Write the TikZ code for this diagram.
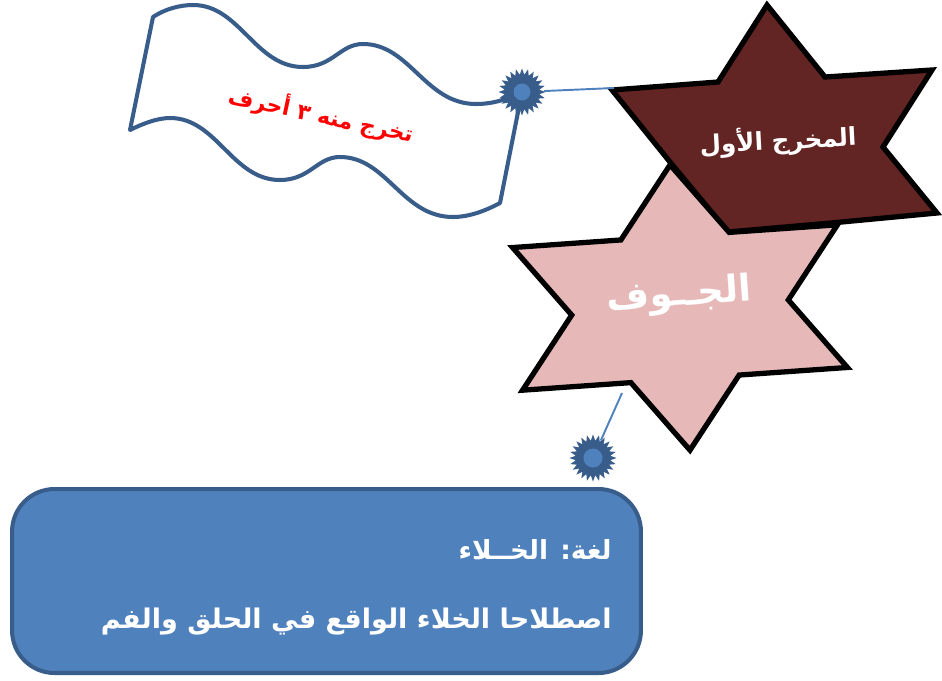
\documentclass[tikz,border=0pt]{standalone}
\usepackage{fontspec}
\newfontfamily\arabicfont[Script=Arabic]{DejaVu Sans}
\TeXXeTstate=1
\usepackage{tikz}
\usetikzlibrary{
    shapes.geometric,
    positioning
}
\definecolor{sealblue}{RGB}{56, 93, 138}
\definecolor{lightblue}{RGB}{79, 129, 189}
\definecolor{darkmaroon}{RGB}{99, 37, 35}
\definecolor{rosepink}{RGB}{230, 185, 184}
\definecolor{flagred}{RGB}{255, 0, 0}
\tikzstyle{starline} = [
    draw=black,
    line width=3pt,
    line join=miter
]
\tikzstyle{seal} = [
    star,
    star points=24,
    star point ratio=1.35,
    fill=sealblue,
    minimum size=0.94cm,
    inner sep=0pt
]
\tikzstyle{linkline} = [
    lightblue,
    line width=1.1pt
]
\tikzstyle{artext} = [
    font=\arabicfont\bfseries,
    text=white,
    inner sep=0pt
]

\begin{document}
\begin{tikzpicture}[x=0.02cm, y=-0.02cm]
        % Page frame
        \useasboundingbox (0,0) rectangle (942,680);

        % Wavy banner
        \draw[sealblue, fill=white, line width=2.3pt, line join=round]
            (153,17) .. controls (165,9) and (180,5) .. (193,5)
            .. controls (240,5) and (255,67) .. (303,67)
            .. controls (333,67) and (340,44) .. (363,44)
            .. controls (410,44) and (425,104) .. (476,104)
            .. controls (495,104) and (510,98) .. (522,92)
            -- (500,203)
            .. controls (487,210) and (470,217) .. (453,217)
            .. controls (402,217) and (387,157) .. (340,157)
            .. controls (317,157) and (310,180) .. (280,180)
            .. controls (232,180) and (217,118) .. (170,118)
            .. controls (157,118) and (142,124) .. (130,130) -- cycle;
        \node[artext, text=flagred, rotate=-12] (flagtext) at (321,115)
            {\fontsize{12.5}{15}\selectfont\beginR تخرج منه ٣ أحرف\endR};

        % Connector ends
        \coordinate (exitcorner) at (614,88);
        \coordinate (jawfcorner) at (622,393);

        % First exit (maroon star)
        \draw[starline, fill=darkmaroon]
            (767,5) -- (825,77) -- (932,70) -- (883,147) -- (937,213) -- (831,223)
            -- (728,232) -- (670,162) -- (612,90) -- (718,82) -- cycle;
        \node[artext, rotate=3] (exittext) at (778,141)
            {\fontsize{14}{17}\selectfont\beginR المخرج الأول\endR};

        % Jawf (pink star)
        \draw[starline, fill=rosepink, shift={(680,307.5)}, rotate=4, xscale=188, yscale=143]
            (90:1) -- (60:0.5774) -- (30:1) -- (0:0.5774) -- (-30:1) -- (-60:0.5774)
            -- (-90:1) -- (-120:0.5774) -- (-150:1) -- (180:0.5774) -- (150:1)
            -- (120:0.5774) -- cycle;
        \node[artext, rotate=4] (jawftext) at (679,296)
            {\fontsize{21}{25}\selectfont\beginR الجــوف\endR};

        % Seals and links
        \node[seal] (seala) at (522,92) {};
        \node[seal] (sealb) at (593,458) {};
        \fill[lightblue] (seala) circle (0.17cm);
        \fill[lightblue] (sealb) circle (0.19cm);
        \draw[linkline] (seala) -- (exitcorner);
        \draw[linkline] (sealb) -- (jawfcorner);

        % Definition box
        \node[rectangle, rounded corners=0.85cm, fill=lightblue, draw=sealblue, line width=2.3pt,
              minimum width=12.58cm, minimum height=3.68cm] (defbox) at (326.5,581) {};
        \node[artext, anchor=east] (lugha) at (612,550)
            {\fontsize{15}{18}\selectfont\beginR لغة: الخــلاء\endR};
        \node[artext, anchor=east] (istilah) at (612,622)
            {\fontsize{15.4}{18}\selectfont\beginR اصطلاحا الخلاء الواقع في الحلق والفم\endR};
    \end{tikzpicture}
\end{document}
